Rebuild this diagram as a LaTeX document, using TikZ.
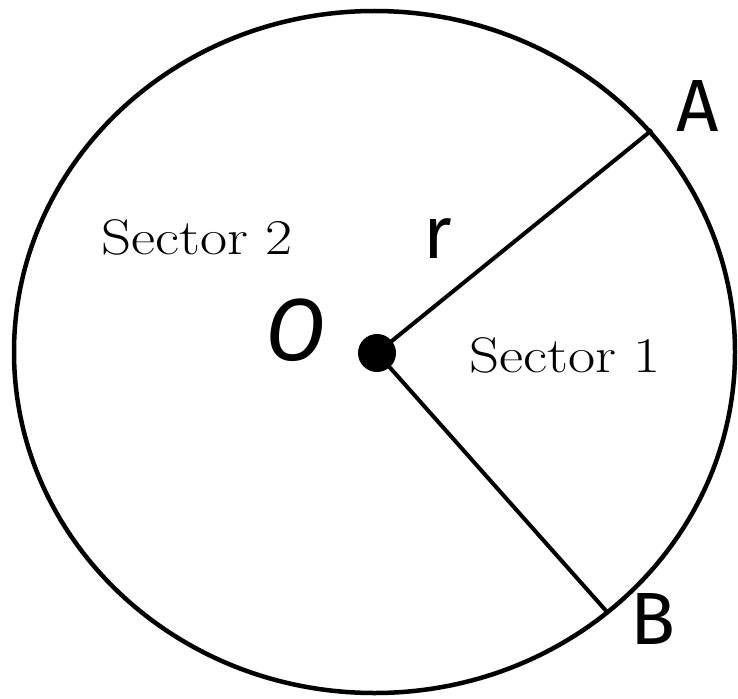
\documentclass[tikz,border=0pt]{standalone}
\usepackage{fontspec}
\newfontfamily\handfont{Fira Sans}
\tikzset{
  rim/.style={line width=4.5pt},
  radius line/.style={line width=4pt},
  letter/.style={font=\handfont\fontsize{74}{80}\selectfont, inner sep=0pt},
  sectorlabel/.style={font=\fontsize{50}{60}\selectfont, inner sep=0pt, xscale=1.18}
}
\begin{document}
\begin{tikzpicture}[x=1pt,y=-1pt]
\useasboundingbox (0,0) rectangle (738,698);
\draw[rim] (374.5,352) ellipse [x radius=360.5, y radius=341];
\coordinate (O) at (377,353);
\coordinate (A) at (652,130);
\coordinate (B) at (608,613);
\draw[radius line] (O) -- (A);
\draw[radius line] (O) -- (B);
\fill (O) circle [radius=19];
\node[letter] (labA) at (698,106) {A};
\node[letter] (labB) at (653,619) {B};
\node[letter, font=\handfont\fontsize{88}{90}\selectfont] (labO) at (296,330) {\itshape O};
\node[letter, anchor=base] (labr) at (438,258) {r};
\node[sectorlabel, anchor=base] (s2) at (197,254) {Sector 2};
\node[sectorlabel, anchor=base] (s1) at (565,372) {Sector 1};
\end{tikzpicture}
\end{document}
